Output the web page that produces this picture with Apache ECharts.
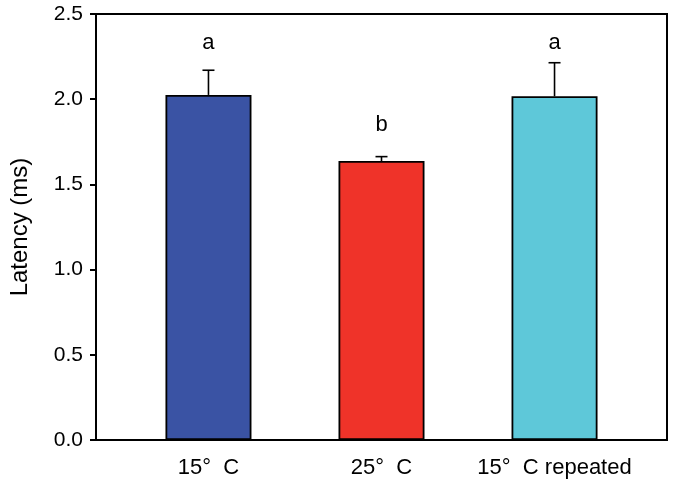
<!DOCTYPE html>
<html>
<head>
<meta charset="utf-8">
<script src="https://cdn.jsdelivr.net/npm/echarts@6/dist/echarts.min.js"></script>
<style>
  html, body { margin: 0; padding: 0; background: #fff; }
  #chart { width: 674px; height: 488px; }
</style>
</head>
<body>
<div id="chart"></div>
<script>
const categories = ["15°  C", "25°  C", "15°  C repeated"];
const latency = [2.025, 1.637, 2.017];
const errorUp = [0.145, 0.026, 0.197];
const letters = ["a", "b", "a"];
const letterY = [2.33, 1.85, 2.33];
const barColors = ["#3a53a4", "#ef3329", "#5ec8d9"];

const font = "Liberation Sans, Arial, sans-serif";
const chart = echarts.init(document.getElementById("chart"), null, { renderer: "canvas" });

const option = {
  animation: false,
  backgroundColor: "#fff",
  grid: {
    left: 95, right: 7, top: 14, bottom: 48,
    show: true, borderColor: "#000", borderWidth: 2, backgroundColor: "transparent"
  },
  xAxis: {
    type: "value",
    min: -0.65,
    max: 2.65,
    splitLine: { show: false },
    axisLine: { show: true, onZero: false, lineStyle: { color: "#000", width: 2 } },
    axisTick: { show: false },
    axisLabel: {
      customValues: [0, 1, 2],
      formatter: (v) => categories[Math.round(v)],
      color: "#000",
      fontFamily: font,
      fontSize: 22,
      margin: 17
    }
  },
  yAxis: {
    type: "value",
    min: 0,
    max: 2.5,
    interval: 0.5,
    name: "Latency (ms)",
    nameLocation: "middle",
    nameGap: 64,
    nameTextStyle: { color: "#000", fontFamily: font, fontSize: 24 },
    splitLine: { show: false },
    axisLine: { show: true, onZero: false, lineStyle: { color: "#000", width: 2 } },
    axisTick: { show: true, inside: false, length: 6, lineStyle: { color: "#000", width: 2 } },
    axisLabel: {
      color: "#000",
      fontFamily: font,
      fontSize: 21,
      margin: 13,
      formatter: (v) => v.toFixed(1)
    }
  },
  series: [
    {
      type: "bar",
      barWidth: 86,
      data: latency.map((v, i) => ({
        value: [i, v],
        itemStyle: { color: barColors[i], borderColor: "#000", borderWidth: 1.8 }
      })),
      z: 2
    },
    {
      type: "custom",
      z: 1,
      data: latency.map((v, i) => [i, v, v + errorUp[i]]),
      renderItem: (params, api) => {
        const base = api.coord([api.value(0), api.value(1)]);
        const top = api.coord([api.value(0), api.value(2)]);
        const half = 6;
        return {
          type: "group",
          children: [
            { type: "line", shape: { x1: base[0], y1: base[1], x2: top[0], y2: top[1] },
              style: { stroke: "#000", lineWidth: 1.6 } },
            { type: "line", shape: { x1: top[0] - half, y1: top[1], x2: top[0] + half, y2: top[1] },
              style: { stroke: "#000", lineWidth: 1.6 } }
          ]
        };
      }
    },
    {
      type: "custom",
      z: 3,
      data: letterY.map((v, i) => [i, v]),
      renderItem: (params, api) => {
        const p = api.coord([api.value(0), api.value(1)]);
        return {
          type: "text",
          style: {
            x: p[0], y: p[1],
            text: letters[params.dataIndex],
            fill: "#000",
            font: "22px " + font,
            align: "center",
            verticalAlign: "middle"
          }
        };
      }
    }
  ]
};

chart.setOption(option);
</script>
</body>
</html>
